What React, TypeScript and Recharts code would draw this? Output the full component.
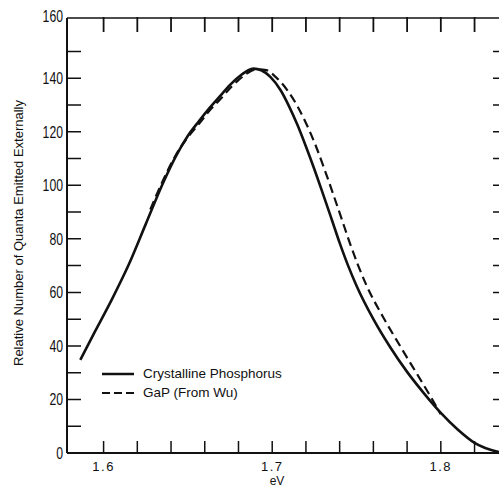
import * as React from "react";
import { Line, LineChart, ReferenceLine, XAxis, YAxis } from "recharts";

// solid curve: crystalline phosphorus
const crystalEv = [
  1.5862, 1.595, 1.605, 1.615, 1.625, 1.635, 1.643, 1.65, 1.6566, 1.663, 1.6693, 1.675, 1.6792,
  1.684, 1.689, 1.6935, 1.6989, 1.705, 1.71, 1.715, 1.72, 1.725, 1.73, 1.735, 1.74, 1.745, 1.75,
  1.76, 1.77, 1.78, 1.79, 1.8, 1.81, 1.82, 1.8345,
];
const crystalQ = [
  34.8, 45.5, 57.5, 70.5, 85.5, 100.5, 111, 118.5, 124, 129, 133.5, 137.5, 140, 142.3, 143.6, 143,
  140.5, 135.5, 129.5, 122.5, 114.5, 106, 97, 87.8, 78.5, 70, 62.5, 50, 39.5, 30.3, 22.3, 15, 8.8,
  3.8, 0.3,
];

// dashed curve: GaP (from Wu)
const gapEv = [
  1.6277, 1.635, 1.643, 1.65, 1.6566, 1.663, 1.6693, 1.675, 1.68, 1.685, 1.6905, 1.6965, 1.702,
  1.709, 1.715, 1.72, 1.726, 1.731, 1.736, 1.741, 1.746, 1.751, 1.756, 1.766, 1.776, 1.788, 1.794,
  1.7999,
];
const gapQ = [
  91, 101.5, 111.5, 118, 123, 128, 132.2, 136.3, 139.3, 141.8, 143.3, 143, 140.5, 135.5, 129.5,
  123.3, 114.5, 106, 97, 87.8, 78.5, 70, 62.5, 50.5, 39.8, 27.3, 21, 14.5,
];

const xTicks = [1.6, 1.62, 1.64, 1.66, 1.68, 1.7, 1.72, 1.74, 1.76, 1.78, 1.8, 1.82];
const xLabels = [1.6, 1.7, 1.8];
const yTicks = [10, 20, 30, 40, 50, 60, 70, 80, 90, 100, 110, 120, 130, 140, 150, 160];
const yLabels = [0, 20, 40, 60, 80, 100, 120, 140, 160];

const X_DOMAIN: [number, number] = [1.5783, 1.8345];
const Y_DOMAIN: [number, number] = [0, 162.5];

const crystal = crystalEv.map((ev, i) => ({ ev, q: crystalQ[i] }));
const gap = gapEv.map((ev, i) => ({ ev, q: gapQ[i] }));

const AXIS_X = 67;
const AXIS_Y = 453;
const TOP_Y = 18;
const RIGHT_X = 499;

const plain = "'Liberation Sans', Arial, sans-serif";

const LeftTick = (p: any) => {
  const v = p.payload.value;
  const y = p.y;
  const s = String(v);
  return (
    <g>
      {v !== 0 && v !== 160 && (
        <path
          d={`M${AXIS_X},${y}H${AXIS_X + 14}M${RIGHT_X - 6},${y}H${RIGHT_X}`}
          stroke="#111"
          strokeWidth={1.5}
          fill="none"
        />
      )}
      {yLabels.includes(v) && (
        <text
          x={AXIS_X - 4}
          y={v === 160 ? y - 9 : y}
          dy={6}
          textAnchor="end"
          fontFamily={plain}
          fontSize={16}
          textLength={s.length * 6.8}
          lengthAdjust="spacingAndGlyphs"
          fill="#111"
        >
          {s}
        </text>
      )}
    </g>
  );
};

// each x tick: an upward mark on the bottom axis and a downward one under the top frame
const BottomTick = (p: any) => {
  const v = p.payload.value;
  const x = p.x;
  const major = xLabels.some((l) => Math.abs(l - v) < 1e-6);
  return (
    <g>
      <line x1={x} x2={x} y1={AXIS_Y} y2={AXIS_Y - 12} stroke="#111" strokeWidth={1.5} />
      <line x1={x} x2={x} y1={TOP_Y - 1} y2={TOP_Y + 14} stroke="#111" strokeWidth={1.8} />
      {major && (
        <text
          x={x}
          y={AXIS_Y + 18}
          textAnchor="middle"
          fontFamily={plain}
          fontSize={13}
          letterSpacing={1.5}
          fill="#111"
        >
          {v.toFixed(1)}
        </text>
      )}
    </g>
  );
};

const YTitle = () => (
  <text
    x={0}
    y={0}
    transform="translate(23 233) rotate(-90)"
    textAnchor="middle"
    fontFamily={plain}
    fontSize={13}
    textLength={266}
    lengthAdjust="spacingAndGlyphs"
    fill="#111"
  >
    Relative Number of Quanta Emitted Externally
  </text>
);

const LegendRow = (props: { label: string; dash?: string }) => (
  <div style={{ display: "flex", alignItems: "center", height: 19 }}>
    <svg width={32} height={4}>
      <line
        x1={0}
        x2={32}
        y1={2}
        y2={2}
        stroke="#111"
        strokeWidth={props.dash ? 2.2 : 2.5}
        strokeDasharray={props.dash}
      />
    </svg>
    <span style={{ marginLeft: 9 }}>{props.label}</span>
  </div>
);

export default function App() {
  return (
    <div style={{ position: "absolute", left: 0, top: 0, width: 499, height: 487, background: "#fff" }}>
      <LineChart
        width={499}
        height={487}
        margin={{ top: TOP_Y, right: 0, bottom: 0, left: 0 }}
        style={{ overflow: "visible" }}
      >
        <ReferenceLine
          xAxisId="b"
          yAxisId="l"
          y={Y_DOMAIN[1]}
          stroke="#111"
          strokeWidth={1.5}
          ifOverflow="visible"
        />
        <Line
          xAxisId="b"
          yAxisId="l"
          data={crystal}
          dataKey="q"
          type="monotone"
          stroke="#111"
          strokeWidth={2.6}
          dot={false}
          isAnimationActive={false}
        />
        <Line
          xAxisId="b"
          yAxisId="l"
          data={gap}
          dataKey="q"
          type="monotone"
          stroke="#111"
          strokeWidth={2.2}
          strokeDasharray="9 5"
          dot={false}
          isAnimationActive={false}
        />
        <XAxis
          xAxisId="b"
          dataKey="ev"
          type="number"
          domain={X_DOMAIN}
          allowDataOverflow
          ticks={xTicks}
          interval={0}
          tick={<BottomTick />}
          tickLine={false}
          tickSize={0}
          tickMargin={0}
          height={34}
          stroke="#111"
          strokeWidth={2}
          label={{
            value: "eV",
            position: "insideBottom",
            offset: 2,
            dx: -6,
            fill: "#111",
            fontSize: 12,
            fontFamily: plain,
          }}
        />
        <YAxis
          yAxisId="l"
          type="number"
          domain={Y_DOMAIN}
          allowDataOverflow
          ticks={[0, ...yTicks]}
          interval={0}
          tick={<LeftTick />}
          tickLine={false}
          tickSize={0}
          tickMargin={0}
          width={AXIS_X}
          stroke="#111"
          strokeWidth={2}
          label={<YTitle />}
        />
      </LineChart>
      <div
        style={{
          position: "absolute",
          left: 102,
          top: 364,
          fontFamily: plain,
          fontSize: 13.5,
          color: "#111",
        }}
      >
        <LegendRow label="Crystalline Phosphorus" />
        <LegendRow label="GaP (From Wu)" dash="8 4" />
      </div>
    </div>
  );
}
